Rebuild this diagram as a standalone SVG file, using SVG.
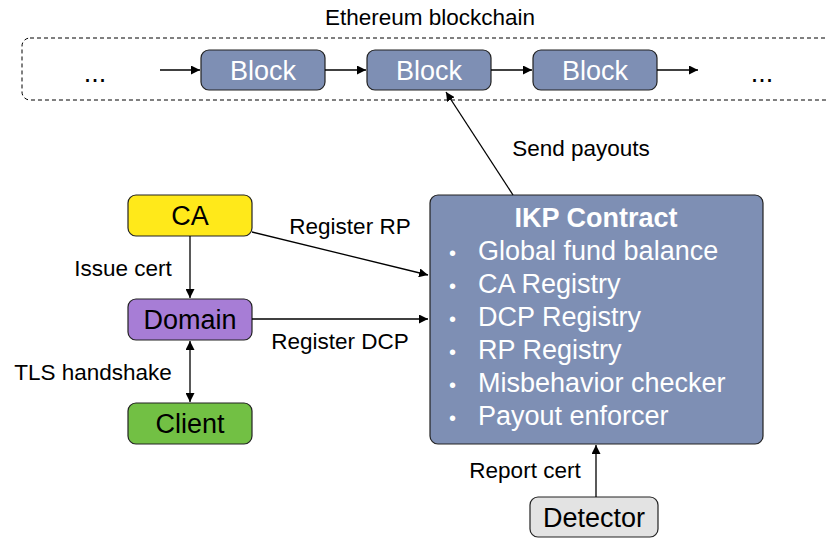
<svg xmlns="http://www.w3.org/2000/svg" width="827" height="538" viewBox="0 0 827 538">
  <style>
    text { font-family: "Liberation Sans", Arial, sans-serif; fill: #000; }
    .lbl { font-size: 22.5px; }
    .node-text { font-size: 27px; text-anchor: middle; }
    .white { fill: #fff; }
    .box { stroke: #222; stroke-width: 1.2; }
    .conn { stroke: #000; stroke-width: 1.3; fill: none; }
  </style>
  <defs>
    <marker id="arrow" viewBox="0 0 10 10" refX="10" refY="5" markerWidth="9" markerHeight="9" markerUnits="userSpaceOnUse" orient="auto-start-reverse">
      <path d="M0,0 L10,5 L0,10 z" fill="#000"/>
    </marker>
  </defs>

  <!-- blockchain container -->
  <g id="blockchain">
    <text x="430" y="25" font-size="22.5" text-anchor="middle">Ethereum blockchain</text>
    <rect x="22" y="38" width="830" height="62" rx="8" fill="none" stroke="#000" stroke-width="1" stroke-dasharray="4,3"/>
    <text x="95" y="82" class="node-text">...</text>
    <text x="762" y="82" class="node-text">...</text>
  </g>
  <g id="block1">
    <rect class="box" x="201" y="50" width="124" height="40" rx="8" fill="#7E8FB4"/>
    <text x="263" y="80" class="node-text white">Block</text>
  </g>
  <g id="block2">
    <rect class="box" x="367" y="50" width="124" height="40" rx="8" fill="#7E8FB4"/>
    <text x="429" y="80" class="node-text white">Block</text>
  </g>
  <g id="block3">
    <rect class="box" x="533" y="50" width="124" height="40" rx="8" fill="#7E8FB4"/>
    <text x="595" y="80" class="node-text white">Block</text>
  </g>

  <!-- participants -->
  <g id="ca">
    <rect class="box" x="128" y="195" width="124" height="41" rx="8" fill="#FFE91A"/>
    <text x="190" y="225" class="node-text">CA</text>
  </g>
  <g id="domain">
    <rect class="box" x="128" y="299" width="124" height="41" rx="8" fill="#A77DD6"/>
    <text x="190" y="329" class="node-text">Domain</text>
  </g>
  <g id="client">
    <rect class="box" x="128" y="403" width="124" height="41" rx="8" fill="#72C044"/>
    <text x="190" y="433" class="node-text">Client</text>
  </g>
  <g id="detector">
    <rect class="box" x="530" y="497" width="128" height="40" rx="8" fill="#E3E3E3"/>
    <text x="594" y="527" class="node-text">Detector</text>
  </g>

  <g id="ikp-contract">
    <rect class="box" x="430" y="195" width="333" height="249" rx="8" fill="#7E8FB4"/>
    <text x="596" y="227" font-size="27" font-weight="bold" text-anchor="middle" class="white">IKP Contract</text>
    <g font-size="27">
      <text x="449" y="260" class="white" font-size="20">•</text>
      <text x="478" y="260" class="white">Global fund balance</text>
      <text x="449" y="293" class="white" font-size="20">•</text>
      <text x="478" y="293" class="white">CA Registry</text>
      <text x="449" y="326" class="white" font-size="20">•</text>
      <text x="478" y="326" class="white">DCP Registry</text>
      <text x="449" y="359" class="white" font-size="20">•</text>
      <text x="478" y="359" class="white">RP Registry</text>
      <text x="449" y="392" class="white" font-size="20">•</text>
      <text x="478" y="392" class="white">Misbehavior checker</text>
      <text x="449" y="425" class="white" font-size="20">•</text>
      <text x="478" y="425" class="white">Payout enforcer</text>
    </g>
  </g>

  <!-- connectors -->
  <g id="connectors">
    <line class="conn" x1="160" y1="70" x2="200" y2="70" marker-end="url(#arrow)"/>
    <line class="conn" x1="325" y1="70" x2="366" y2="70" marker-end="url(#arrow)"/>
    <line class="conn" x1="491" y1="70" x2="532" y2="70" marker-end="url(#arrow)"/>
    <line class="conn" x1="657" y1="70" x2="698" y2="70" marker-end="url(#arrow)"/>
    <line class="conn" x1="513" y1="195" x2="446" y2="92" marker-end="url(#arrow)"/>
    <line class="conn" x1="190" y1="236" x2="190" y2="298" marker-end="url(#arrow)"/>
    <line class="conn" x1="190" y1="341" x2="190" y2="402" marker-start="url(#arrow)" marker-end="url(#arrow)"/>
    <line class="conn" x1="252" y1="232" x2="428" y2="275" marker-end="url(#arrow)"/>
    <line class="conn" x1="252" y1="319" x2="428" y2="319" marker-end="url(#arrow)"/>
    <line class="conn" x1="596" y1="497" x2="596" y2="445" marker-end="url(#arrow)"/>
  </g>

  <!-- connector labels -->
  <g id="labels" class="lbl">
    <text x="581" y="156" class="lbl" text-anchor="middle">Send payouts</text>
    <text x="350" y="234" class="lbl" text-anchor="middle">Register RP</text>
    <text x="123" y="276" class="lbl" text-anchor="middle">Issue cert</text>
    <text x="340" y="349" class="lbl" text-anchor="middle">Register DCP</text>
    <text x="93" y="380" class="lbl" text-anchor="middle">TLS handshake</text>
    <text x="525" y="478" class="lbl" text-anchor="middle">Report cert</text>
  </g>
</svg>
